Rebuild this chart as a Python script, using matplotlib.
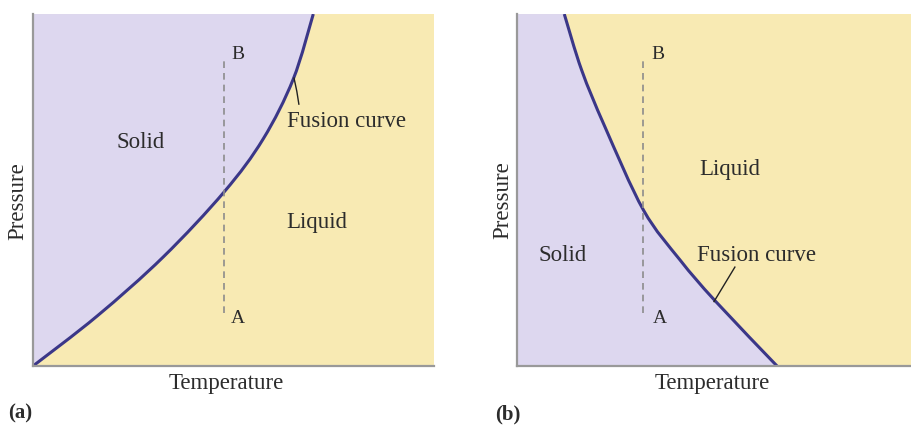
import matplotlib.pyplot as plt
from matplotlib.path import Path
from matplotlib.patches import PathPatch

# fusion curve traced for a normal substance (a) and for water-like behaviour (b)
temp_a = [0.0, 1.60, 3.25, 4.77, 5.74, 6.49, 6.99]
pres_a = [0.0, 1.42, 3.10, 4.95, 6.45, 8.15, 10.0]

temp_b = [1.20, 1.64, 2.23, 3.21, 4.14, 5.03, 6.60]
pres_b = [10.0, 8.41, 6.80, 4.43, 3.01, 1.85, 0.0]

# isothermal compression path A -> B
path_x = {"a": 4.77, "b": 3.21}
path_y = [1.5, 8.78]

SOLID = "#ddd7ef"
LIQUID = "#f8eab3"
CURVE = "#3b3788"
TEXT = "#2c2c2c"
FS = 16.5

plt.rcParams["font.family"] = "Liberation Serif"

fig = plt.figure(figsize=(9.11, 4.25), dpi=100)


def smooth_path(xs, ys):
    # cubic bezier segments through the traced points (catmull-rom tangents)
    pts = list(zip(xs, ys))
    verts = [pts[0]]
    codes = [Path.MOVETO]
    n = len(pts)
    for i in range(n - 1):
        p0 = pts[max(i - 1, 0)]
        p1 = pts[i]
        p2 = pts[i + 1]
        p3 = pts[min(i + 2, n - 1)]
        c1 = (p1[0] + (p2[0] - p0[0]) / 6, p1[1] + (p2[1] - p0[1]) / 6)
        c2 = (p2[0] - (p3[0] - p1[0]) / 6, p2[1] - (p3[1] - p1[1]) / 6)
        verts += [c1, c2, p2]
        codes += [Path.CURVE4] * 3
    return verts, codes


def setup(ax):
    ax.set_xlim(0, 10)
    ax.set_ylim(0, 10)
    ax.set_facecolor(LIQUID)
    for s in ["top", "right"]:
        ax.spines[s].set_visible(False)
    for s in ["left", "bottom"]:
        ax.spines[s].set_color("#999999")
        ax.spines[s].set_linewidth(1.6)
        ax.spines[s].set_zorder(5)
    ax.set_xticks([])
    ax.set_yticks([])


def draw_panel(ax, xs, ys, px):
    verts, codes = smooth_path(xs, ys)
    # close the solid region along the left edge of the axes
    end, start = verts[-1], verts[0]
    fill_verts = verts + [(0, end[1]), (0, start[1]), start]
    fill_codes = codes + [Path.LINETO, Path.LINETO, Path.CLOSEPOLY]
    ax.add_patch(PathPatch(Path(fill_verts, fill_codes), facecolor=SOLID, lw=0))
    ax.add_patch(PathPatch(Path(verts, codes), facecolor="none", edgecolor=CURVE,
                           lw=2.2, capstyle="butt"))
    ax.plot([px] * 2, path_y, color="#8c8c8c", lw=1.2, dashes=(4, 3))


# (a) solid region to the left of a positively sloped curve
ax1 = fig.add_axes([0.0362, 0.1388, 0.4402, 0.8282])
setup(ax1)
draw_panel(ax1, temp_a, pres_a, path_x["a"])
ax1.text(5.11, 8.84, "B", ha="center", va="center", fontsize=14, color=TEXT)
ax1.text(5.11, 1.36, "A", ha="center", va="center", fontsize=14, color=TEXT)
ax1.text(2.69, 6.34, "Solid", ha="center", va="center", fontsize=FS, color=TEXT)
ax1.text(7.08, 4.09, "Liquid", ha="center", va="center", fontsize=FS, color=TEXT)
ax1.text(6.33, 6.96, "Fusion curve", ha="left", va="center", fontsize=FS, color=TEXT)
ax1.plot([6.51, 6.58, 6.63], [8.18, 7.80, 7.44], color="#222222", lw=1.0)

# (b) solid region to the left of a negatively sloped curve
ax2 = fig.add_axes([0.5675, 0.1388, 0.4325, 0.8282])
setup(ax2)
draw_panel(ax2, temp_b, pres_b, path_x["b"])
ax2.text(3.58, 8.84, "B", ha="center", va="center", fontsize=14, color=TEXT)
ax2.text(3.63, 1.36, "A", ha="center", va="center", fontsize=14, color=TEXT)
ax2.text(1.17, 3.13, "Solid", ha="center", va="center", fontsize=FS, color=TEXT)
ax2.text(5.41, 5.57, "Liquid", ha="center", va="center", fontsize=FS, color=TEXT)
ax2.text(4.57, 3.15, "Fusion curve", ha="left", va="center", fontsize=FS, color=TEXT)
ax2.plot([5.0, 5.53], [1.83, 2.81], color="#222222", lw=1.0)

# axis titles and panel letters
for x, y in [(18, 201), (503, 200)]:
    fig.text(x / 911, 1 - y / 425, "Pressure", rotation=90, ha="center", va="center",
             fontsize=FS, color=TEXT)
for x in [226, 712]:
    fig.text(x / 911, 1 - 383 / 425, "Temperature", ha="center", va="center",
             fontsize=FS, color=TEXT)
fig.text(20 / 911, 1 - 413 / 425, "(a)", ha="center", va="center", fontsize=15,
         fontweight="bold", color=TEXT)
fig.text(508 / 911, 1 - 414 / 425, "(b)", ha="center", va="center", fontsize=15,
         fontweight="bold", color=TEXT)

fig.savefig("out.png", dpi=100)
